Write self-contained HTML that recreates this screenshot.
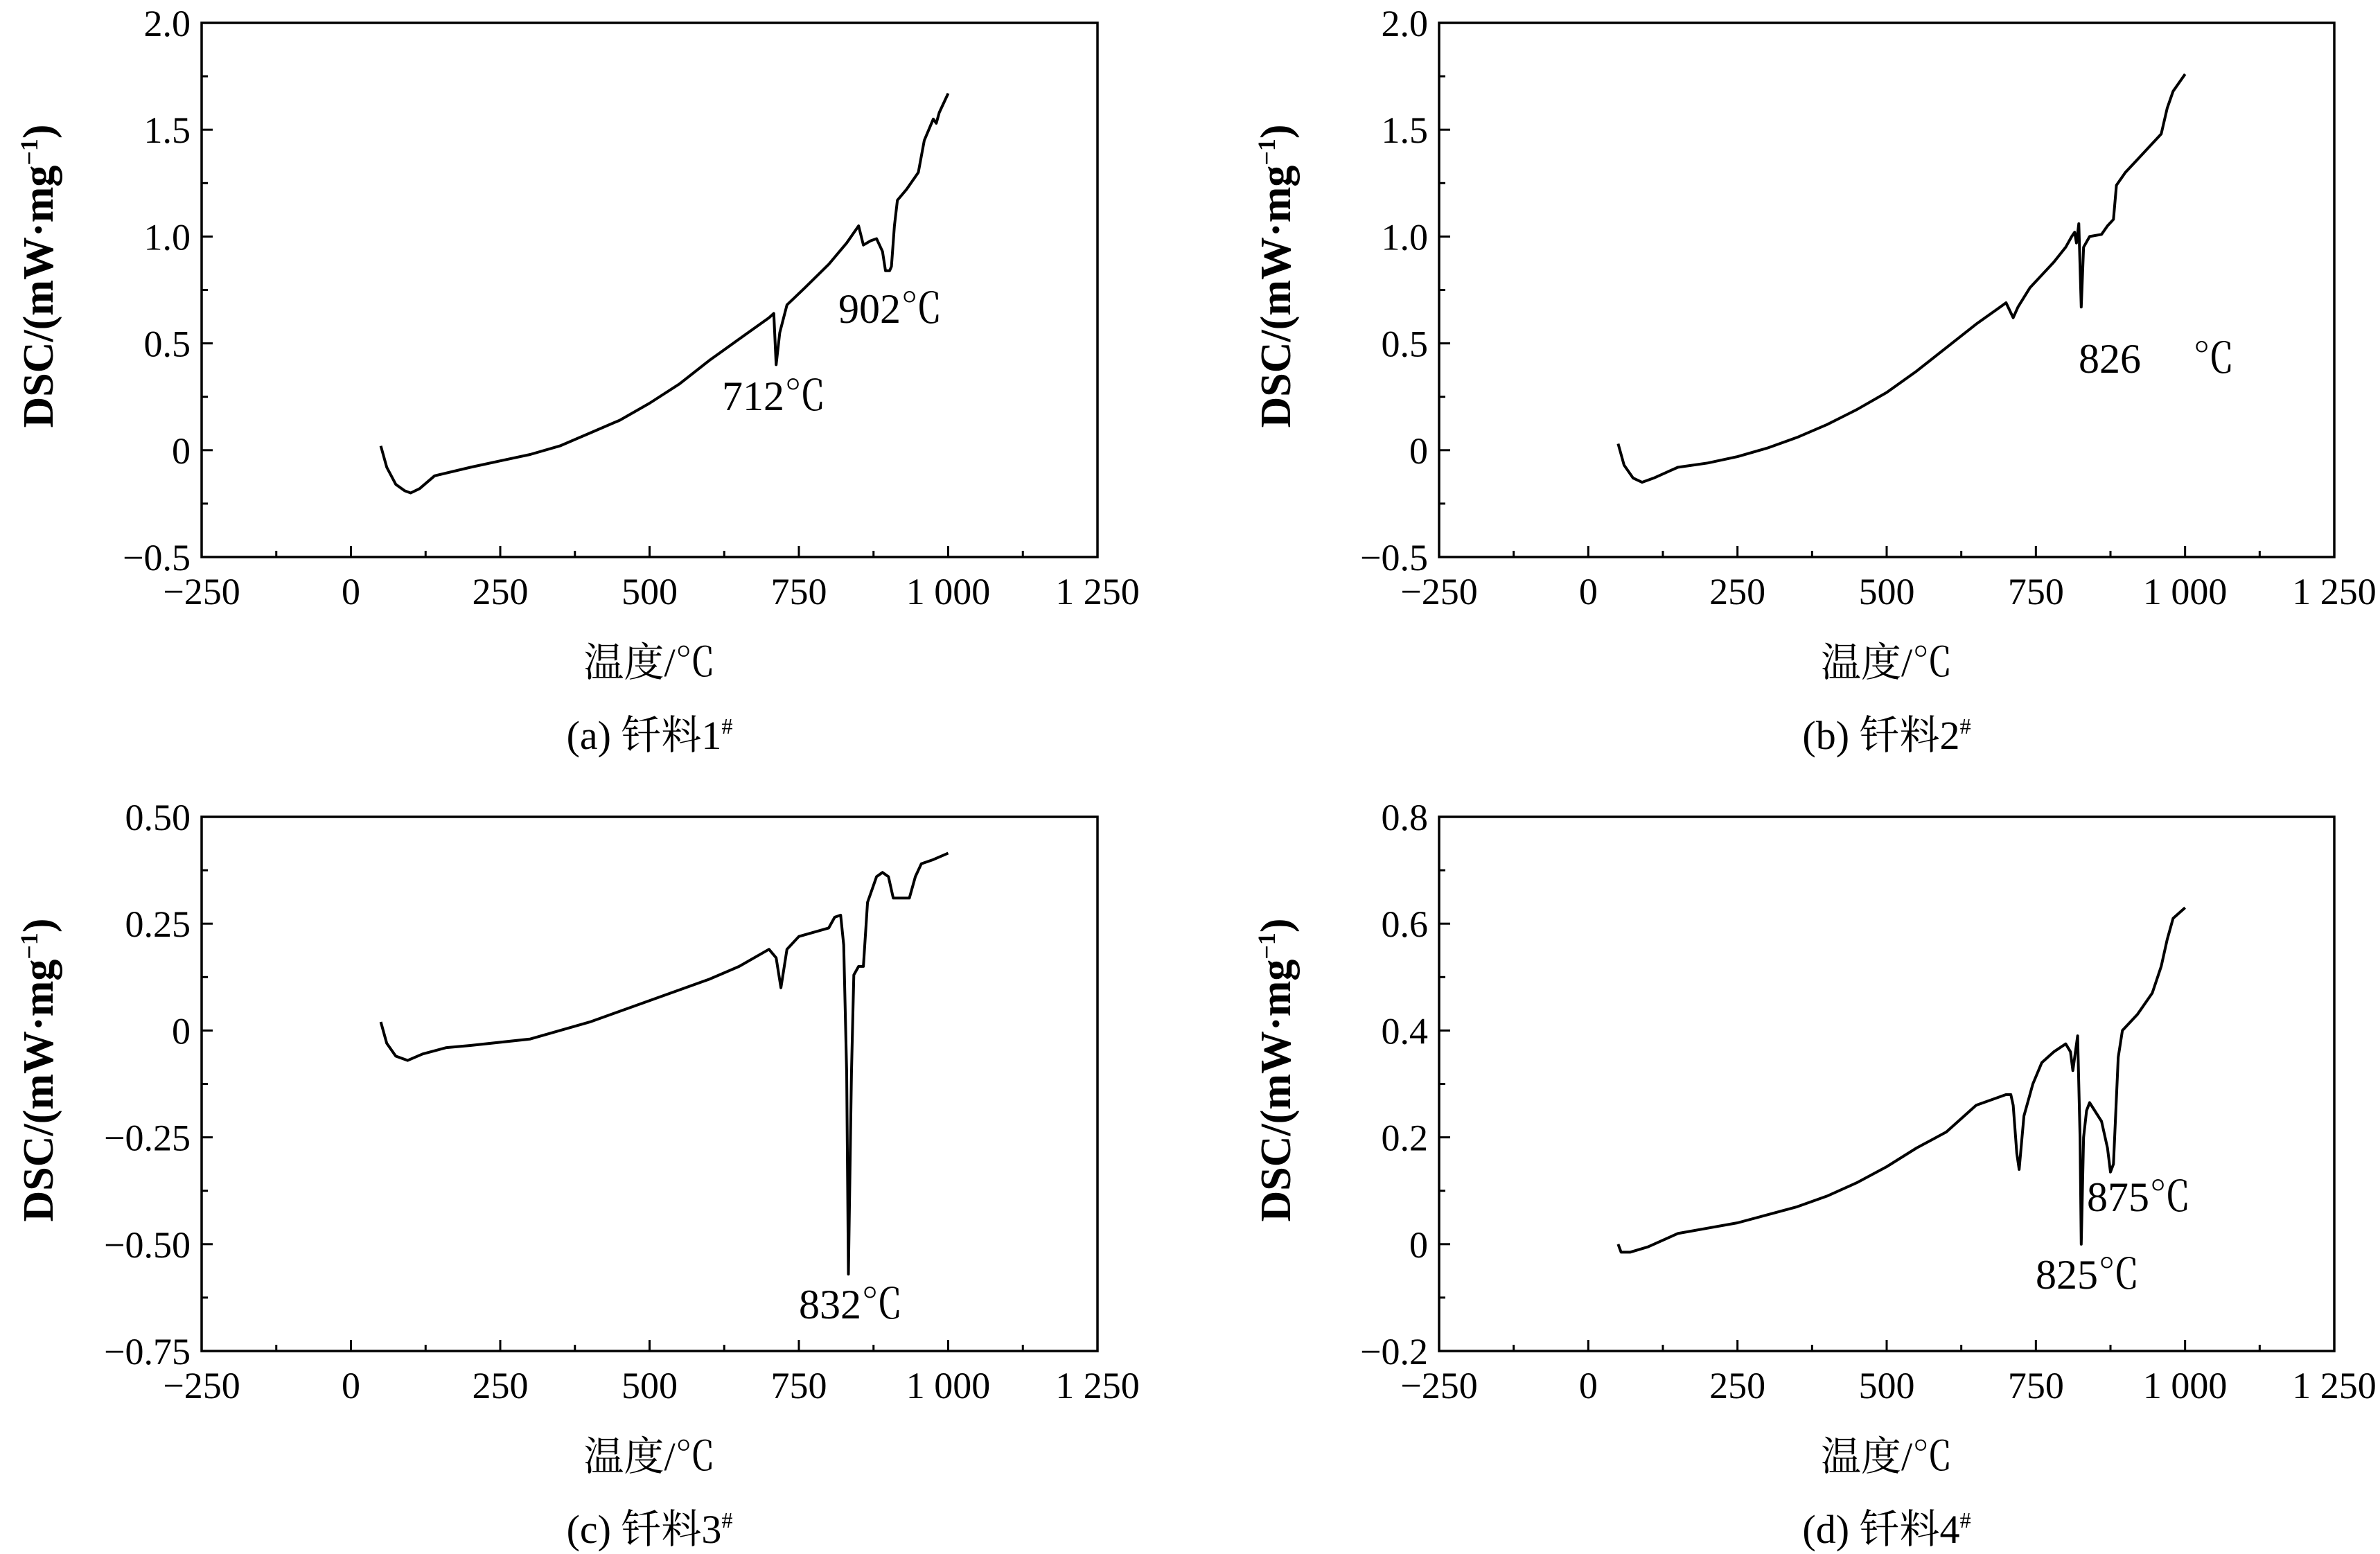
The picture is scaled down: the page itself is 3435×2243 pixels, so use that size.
<!DOCTYPE html>
<html><head><meta charset="utf-8"><style>
html,body{margin:0;padding:0;background:#fff;}
svg{display:block;}
text{font-family:"Liberation Serif","Noto Serif CJK SC","Noto Sans CJK SC",serif;fill:#000;}
</style></head><body>
<svg id="fig" width="3435" height="2243" viewBox="0 0 3435 2243" xmlns="http://www.w3.org/2000/svg"></svg>
<script>
// Panel (a) data
const tA = [50,60,75,90,100,115,140,200,250,300,350,400,450,500,550,600,650,700,708,712,718,730,760,800,830,850,858,870,880,890,895,902,905,910,915,930,950,960,975,980,985,995,1000];
const vA = [0.02,-0.08,-0.16,-0.19,-0.2,-0.18,-0.12,-0.08,-0.05,-0.02,0.02,0.08,0.14,0.22,0.31,0.42,0.52,0.62,0.64,0.40,0.55,0.68,0.76,0.87,0.97,1.05,0.96,0.98,0.99,0.93,0.84,0.84,0.86,1.05,1.17,1.22,1.30,1.45,1.55,1.53,1.58,1.64,1.67];
// Panel (b) data
const tB = [50,60,75,90,110,150,200,250,300,350,400,450,500,550,600,650,690,700,712,720,740,780,800,810,815,818,822,826,830,840,860,870,880,885,900,920,950,960,970,980,1000];
const vB = [0.03,-0.07,-0.13,-0.15,-0.13,-0.08,-0.06,-0.03,0.01,0.06,0.12,0.19,0.27,0.37,0.48,0.59,0.67,0.69,0.62,0.67,0.76,0.88,0.95,1.0,1.02,0.97,1.06,0.67,0.95,1.00,1.01,1.05,1.08,1.24,1.30,1.36,1.45,1.48,1.60,1.68,1.76];
// Panel (c) data
const tC = [50,60,75,95,120,160,200,300,400,500,600,650,700,712,720,730,750,800,810,820,825,830,833,838,842,850,858,865,880,890,900,908,920,935,945,955,975,1000];
const vC = [0.02,-0.03,-0.06,-0.07,-0.055,-0.04,-0.035,-0.02,0.02,0.07,0.12,0.15,0.19,0.17,0.10,0.19,0.22,0.24,0.265,0.27,0.2,-0.1,-0.57,-0.1,0.13,0.15,0.15,0.30,0.36,0.37,0.36,0.31,0.31,0.31,0.36,0.39,0.40,0.415];
// Panel (d) data
const tD = [50,55,70,100,150,200,250,300,350,400,450,500,550,600,650,700,708,712,718,722,730,745,760,780,800,808,812,820,824,826,830,835,840,860,870,875,880,888,895,920,945,960,970,980,1000];
const vD = [0,-0.015,-0.015,-0.005,0.02,0.03,0.04,0.055,0.07,0.09,0.115,0.145,0.18,0.21,0.26,0.28,0.28,0.26,0.17,0.14,0.24,0.30,0.34,0.36,0.375,0.36,0.325,0.39,0.2,0.0,0.2,0.25,0.265,0.23,0.18,0.135,0.15,0.35,0.40,0.43,0.47,0.52,0.57,0.61,0.63];

const xTicks = [-250,0,250,500,750,1000,1250];
const xTickLabels = ["\u2212250","0","250","500","750","1 000","1 250"];
const yTicksAB = [-0.5,0,0.5,1.0,1.5,2.0];
const yLabelsAB = ["\u22120.5","0","0.5","1.0","1.5","2.0"];
const yTicksC = [-0.75,-0.5,-0.25,0,0.25,0.5];
const yLabelsC = ["\u22120.75","\u22120.50","\u22120.25","0","0.25","0.50"];
const yTicksD = [-0.2,0,0.2,0.4,0.6,0.8];
const yLabelsD = ["\u22120.2","0","0.2","0.4","0.6","0.8"];
const captions = ["(a) 钎料1","(b) 钎料2","(c) 钎料3","(d) 钎料4"];
const annotA = [[712,"712℃"],[902,"902℃"]];

const NS="http://www.w3.org/2000/svg";
const svg=document.getElementById('fig');
function mk(tag,attrs,parent){const e=document.createElementNS(NS,tag);for(const k in attrs)e.setAttribute(k,attrs[k]);(parent||svg).appendChild(e);return e;}

function panel(id,L,R,T,B,ymin,ymax,yt,yl,ts,vs,cap,annots){
  const g=mk('g',{});
  
  
  const X=v=>L+(v+250)/1500*(R-L);
  const Y=v=>B-(v-ymin)/(ymax-ymin)*(B-T);
  const fr=mk('rect',{x:L,y:T,width:R-L,height:B-T,fill:'none',stroke:'#000','stroke-width':3.5},g);
  
  
  for(let i=0;i<xTicks.length;i++){
    const x=X(xTicks[i]);
    mk('line',{x1:x,y1:B,x2:x,y2:B-16,stroke:'#000','stroke-width':3},g);
    if(i<xTicks.length-1){const xm=X(xTicks[i]+125);mk('line',{x1:xm,y1:B,x2:xm,y2:B-9,stroke:'#000','stroke-width':3},g);}
    const t=mk('text',{x:x,y:B+68,'font-size':54,'text-anchor':'middle'},g);
    t.textContent=xTickLabels[i];
    
    
  }
  for(let i=0;i<yt.length;i++){
    const y=Y(yt[i]);
    mk('line',{x1:L,y1:y,x2:L+16,y2:y,stroke:'#000','stroke-width':3},g);
    if(i<yt.length-1){const ym=Y((yt[i]+yt[i+1])/2);mk('line',{x1:L,y1:ym,x2:L+9,y2:ym,stroke:'#000','stroke-width':3},g);}
    const t=mk('text',{x:L-16,y:y+19,'font-size':54,'text-anchor':'end'},g);
    t.textContent=yl[i];
    
    
  }
  const xt=mk('text',{x:(L+R)/2,y:B+172,'font-size':58,'text-anchor':'middle'},g);
  xt.textContent='温度/℃';
  
  
  const cp=mk('text',{x:(L+R)/2,y:B+277,'font-size':58,'text-anchor':'middle'},g);
  cp.innerHTML=cap+'<tspan font-size="32" dy="-22">#</tspan>';
  
  
  const yc=(T+B)/2-20;
  const ytt=mk('text',{x:L-215,y:yc,'font-size':62,'font-weight':'bold','text-anchor':'middle',transform:`rotate(-90 ${L-215} ${yc})`},g);
  ytt.innerHTML='DSC/(mW·mg<tspan font-size="36" dy="-22">−1</tspan><tspan dy="22">)</tspan>';
  
  
  let d='';
  for(let i=0;i<ts.length;i++){d+=(i?'L':'M')+X(ts[i]).toFixed(1)+','+Y(vs[i]).toFixed(1);}
  const p=mk('path',{d:d,fill:'none',stroke:'#000','stroke-width':4,'stroke-linejoin':'round'},g);
  
  
  for(const a of annots){
    const t=mk('text',{x:a[0],y:a[1],'font-size':60},g);
    t.textContent=a[2];
    
    
  }
}
panel('a',291,1584,33,804,-0.5,2.0,yTicksAB,yLabelsAB,tA,vA,captions[0],[[1042,592,annotA[0][1]],[1210,466,annotA[1][1]]]);
panel('b',2077,3369,33,804,-0.5,2.0,yTicksAB,yLabelsAB,tB,vB,captions[1],[[3000,538,'826'],[3165,538,'℃']]);
panel('c',291,1584,1179,1950,-0.75,0.5,yTicksC,yLabelsC,tC,vC,captions[2],[[1153,1903,'832℃']]);
panel('d',2077,3369,1179,1950,-0.2,0.8,yTicksD,yLabelsD,tD,vD,captions[3],[[3012,1748,'875℃'],[2938,1860,'825℃']]);
</script>
</body></html>
